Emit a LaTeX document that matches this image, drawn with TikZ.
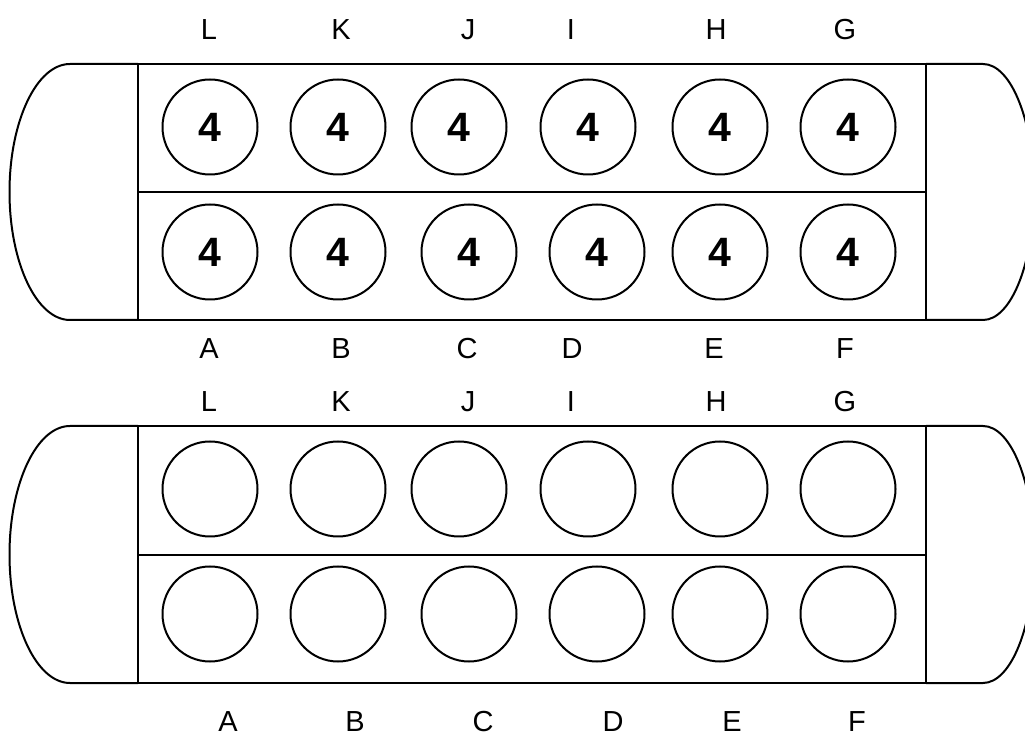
\documentclass[tikz,border=0pt]{standalone}
\usepackage{fontspec}
\setmainfont{Liberation Sans}
\begin{document}
\begin{tikzpicture}[x=1pt,y=1pt,
  boardline/.style={line width=2pt,line join=round},
  pit/.style={circle,draw,line width=2pt,minimum size=95pt,inner sep=0pt,font=\fontsize{41}{41}\selectfont\bfseries},
  lbl/.style={anchor=base,inner sep=0pt,font=\fontsize{29}{29}\selectfont}]
\useasboundingbox (0,0) rectangle (1025,739);
\clip (0,0) rectangle (1025,739);
% ---------- board 1 ----------
\draw[boardline] (138,675) -- (70,675) arc[start angle=90,end angle=270,x radius=60.5,y radius=128] -- (138,419);
\draw[boardline] (926,675) -- (983,675) arc[start angle=90,end angle=-90,x radius=51,y radius=128] -- (926,419);
\draw[boardline] (138,675) rectangle (926,419);
\coordinate (m1a) at (138,547);
\coordinate (m1b) at (926,547);
\draw[boardline] (m1a) -- (m1b);
\foreach \x/\n in {210/L,338/K,459/J,588/I,720/H,848/G}
  \node[pit] (u\n) at (\x,612) {4};
\foreach \x/\n in {210/A,338/B,469/C,597/D,720/E,848/F}
  \node[pit] (u\n) at (\x,487) {4};
\foreach \x/\n in {209/L,341/K,468/J,571/I,716/H,845/G}
  \node[lbl] (tl\n) at (\x,699) {\n};
\foreach \x/\n in {209/A,341/B,467/C,572/D,714/E,845/F}
  \node[lbl] (tb\n) at (\x,380) {\n};
% ---------- board 2 ----------
\draw[boardline] (138,313) -- (70,313) arc[start angle=90,end angle=270,x radius=60.5,y radius=128.5] -- (138,56);
\draw[boardline] (926,313) -- (983,313) arc[start angle=90,end angle=-90,x radius=51,y radius=128.5] -- (926,56);
\draw[boardline] (138,313) rectangle (926,56);
\coordinate (m2a) at (138,184);
\coordinate (m2b) at (926,184);
\draw[boardline] (m2a) -- (m2b);
\foreach \x/\n in {210/L,338/K,459/J,588/I,720/H,848/G}
  \node[pit] (l\n) at (\x,250) {};
\foreach \x/\n in {210/A,338/B,469/C,597/D,720/E,848/F}
  \node[pit] (l\n) at (\x,125) {};
\foreach \x/\n in {209/L,341/K,468/J,571/I,716/H,845/G}
  \node[lbl] (sl\n) at (\x,327) {\n};
\foreach \x/\n in {228/A,355/B,483/C,613/D,732/E,857/F}
  \node[lbl] (sb\n) at (\x,8) {\n};
\end{tikzpicture}
\end{document}
